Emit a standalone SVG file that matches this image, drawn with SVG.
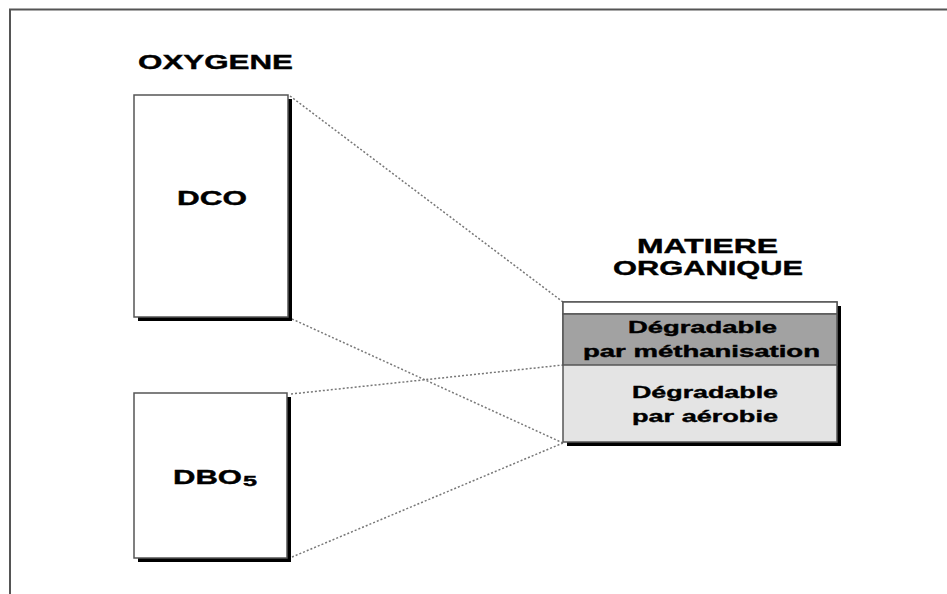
<svg xmlns="http://www.w3.org/2000/svg" width="947" height="594" viewBox="0 0 947 594">
<style>
.t{font-family:"Liberation Sans",Arial,sans-serif;font-weight:bold;fill:#000;stroke:#000;stroke-width:0.4}
.box{fill:#fff;stroke:#555;stroke-width:1.5}
.sh{fill:#000}
.dot{stroke:#777;stroke-width:1.5;stroke-dasharray:2 2;fill:none}
</style>
<rect width="947" height="594" fill="#fff"/>
<g id="frame">
<path d="M10 594 V9.5 H947" fill="none" stroke="#555" stroke-width="2"/>
</g>
<g id="connectors">
<line class="dot" x1="290" y1="96" x2="563" y2="302"/>
<line class="dot" x1="292" y1="319" x2="563" y2="443"/>
<line class="dot" x1="291" y1="394" x2="563" y2="365"/>
<line class="dot" x1="292" y1="557" x2="563" y2="443"/>
</g>
<g id="oxygene">
<text class="t" x="138" y="69" font-size="20" textLength="155" lengthAdjust="spacingAndGlyphs">OXYGENE</text>
</g>
<g id="dco">
<rect class="sh" x="138" y="99" width="154" height="222"/>
<rect class="box" x="134" y="95" width="154" height="222"/>
<text class="t" x="177" y="205" font-size="21" textLength="70" lengthAdjust="spacingAndGlyphs">DCO</text>
</g>
<g id="dbo5">
<rect class="sh" x="138" y="397" width="153" height="165"/>
<rect class="box" x="134" y="393" width="153" height="165"/>
<text class="t" x="173" y="484" font-size="21" textLength="69" lengthAdjust="spacingAndGlyphs">DBO</text>
<text class="t" x="243" y="486" font-size="15" textLength="14" lengthAdjust="spacingAndGlyphs">5</text>
</g>
<g id="matiere">
<text class="t" x="637" y="253" font-size="20" textLength="141" lengthAdjust="spacingAndGlyphs">MATIERE</text>
<text class="t" x="613" y="275" font-size="20" textLength="190" lengthAdjust="spacingAndGlyphs">ORGANIQUE</text>
<rect class="sh" x="567" y="306" width="274" height="140"/>
<rect x="563" y="302" width="274" height="140" fill="#e4e4e4" stroke="#555" stroke-width="1.5"/>
<rect x="563" y="302" width="274" height="12" fill="#fff" stroke="#555" stroke-width="1.5"/>
<rect x="563" y="314" width="274" height="51" fill="#a2a2a2" stroke="#555" stroke-width="1.5"/>
<text class="t" x="628" y="333" font-size="16" textLength="149" lengthAdjust="spacingAndGlyphs">Dégradable</text>
<text class="t" x="583" y="357" font-size="16" textLength="237" lengthAdjust="spacingAndGlyphs">par méthanisation</text>
<text class="t" x="632" y="398" font-size="17" textLength="146" lengthAdjust="spacingAndGlyphs">Dégradable</text>
<text class="t" x="632" y="422" font-size="17" textLength="146" lengthAdjust="spacingAndGlyphs">par aérobie</text>
</g>
</svg>
